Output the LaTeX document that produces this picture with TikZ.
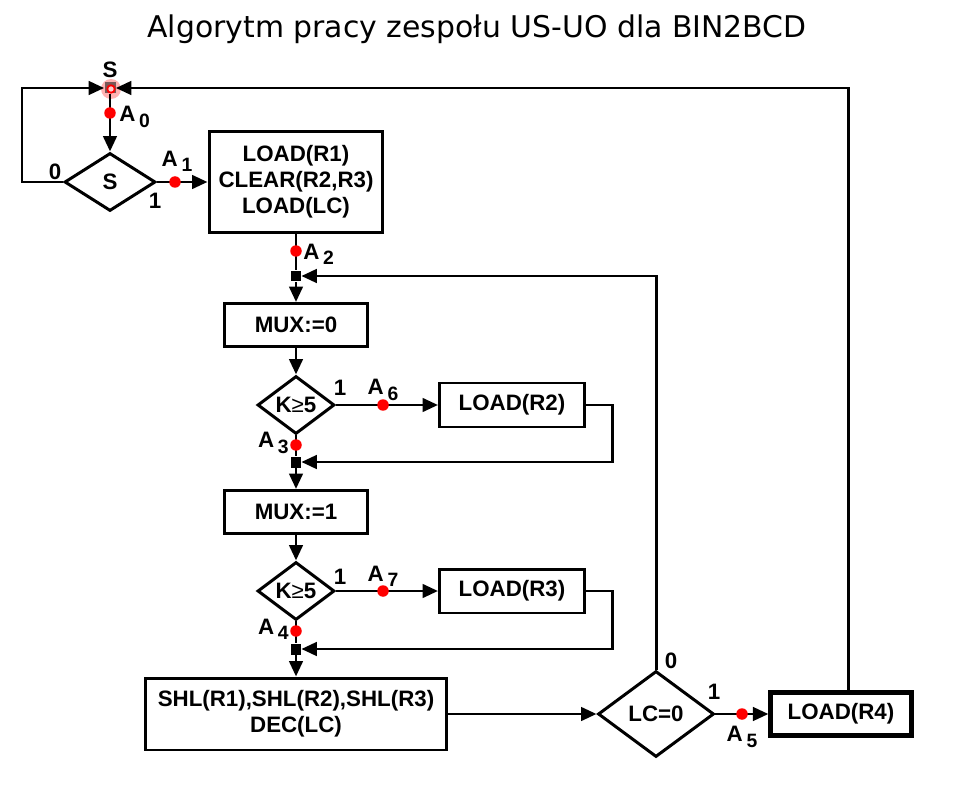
\documentclass[tikz,border=0pt]{standalone}
\usepackage{fontspec}
\setmainfont{Liberation Sans}
\newfontfamily\titlefont{DejaVu Sans}
\usetikzlibrary{shapes.geometric, arrows.meta}
\definecolor{startgray}{RGB}{120,88,88}
\newcommand{\asub}[1]{A\,\raisebox{-0.45ex}{\fontsize{11}{11}\selectfont #1}}
\tikzstyle{process} = [rectangle, draw=black, line width=1.7pt, inner sep=0pt, align=center, font=\fontsize{12.7}{14.9}\selectfont\bfseries]
\tikzstyle{decision} = [diamond, draw=black, line width=1.7pt, inner sep=0pt, aspect=1, font=\fontsize{12.7}{14}\selectfont\bfseries]
\tikzstyle{arrow} = [line width=1.7pt, -{Triangle[length=0.31cm,width=0.27cm]}]
\tikzstyle{line} = [line width=1.7pt]
\tikzstyle{dot} = [circle, fill=red, inner sep=0pt, minimum size=0.23cm]
\tikzstyle{junct} = [rectangle, fill=black, inner sep=0pt, minimum width=0.2cm, minimum height=0.22cm]
\tikzstyle{lbl} = [inner sep=0pt, font=\fontsize{12.7}{14}\selectfont\bfseries]

\begin{document}
\begin{tikzpicture}[x=0.02cm, y=-0.02cm]
	\useasboundingbox (0,0) rectangle (957,787);
	\node (title) at (477,29) {\titlefont\fontsize{17}{20}\selectfont Algorytm pracy zespołu US-UO dla BIN2BCD};

	% start point
	\fill[red, opacity=0.3] (111,89) circle (0.2cm);
	\node (start) [rectangle, fill=startgray, inner sep=0pt, minimum size=0.22cm] at (110,88) {};
	\draw[red, line width=1pt, fill=red!20] (111,89) circle (0.075cm);
	\node (slbl) [lbl] at (110,70) {S};

	% blocks
	\node (dS) [decision, minimum width=1.82cm, minimum height=1.16cm] at (110,182) {S};
	\node (init) [process, minimum width=3.48cm, minimum height=2.02cm] at (296,182) {LOAD(R1)\\CLEAR(R2,R3)\\LOAD(LC)};
	\node (j1) [junct] at (296,276) {};
	\node (mux0) [process, minimum width=2.88cm, minimum height=0.86cm] at (296,325) {MUX:=0};
	\node (dK1) [decision, minimum width=1.54cm, minimum height=1.16cm] at (296,405) {K\textmd{≥}5};
	\node (r2) [process, minimum width=2.9cm, minimum height=0.88cm] at (512,405) {LOAD(R2)};
	\node (j2) [junct] at (296,462) {};
	\node (mux1) [process, minimum width=2.88cm, minimum height=0.86cm] at (296,512) {MUX:=1};
	\node (dK2) [decision, minimum width=1.54cm, minimum height=1.16cm] at (296,591) {K\textmd{≥}5};
	\node (r3) [process, minimum width=2.9cm, minimum height=0.88cm] at (512,591) {LOAD(R3)};
	\node (j3) [junct] at (296,649) {};
	\node (shift) [process, minimum width=6.02cm, minimum height=1.44cm] at (296,714) {SHL(R1),SHL(R2),SHL(R3)\\DEC(LC)};
	\node (dLC) [decision, minimum width=2.32cm, minimum height=1.72cm] at (656,714) {LC=0};
	\node (r4) [process, line width=2.4pt, minimum width=2.82cm, minimum height=0.86cm] at (841,714) {LOAD(R4)};

	% connectors
	\draw [arrow] (start) -- (dS);
	\draw [arrow] (dS.west) -- (22,182) |- (start.west);
	\draw [arrow] (dS.east) -- (init);
	\draw [line] (init) -- (j1);
	\draw [arrow] (j1) -- (mux0);
	\draw [arrow] (mux0) -- (dK1);
	\draw [arrow] (dK1.east) -- (r2);
	\draw [arrow] (r2.east) -- ++(27,0) |- (j2.east);
	\draw [line] (dK1.south) -- (j2);
	\draw [arrow] (j2) -- (mux1);
	\draw [arrow] (mux1) -- (dK2);
	\draw [arrow] (dK2.east) -- (r3);
	\draw [arrow] (r3.east) -- ++(27,0) |- (j3.east);
	\draw [line] (dK2.south) -- (j3);
	\draw [arrow] (j3) -- (shift);
	\draw [arrow] (shift.east) -- (dLC.west);
	\draw [arrow] (dLC.north) |- (j1.east);
	\draw [arrow] (dLC.east) -- (r4);
	\draw [arrow] ([xshift=0.14cm]r4.north) |- (start.east);

	% signals
	\node (a0) [dot] at (110,113) {};
	\node (a1) [dot] at (175,182) {};
	\node (a2) [dot] at (296,251) {};
	\node (a6) [dot] at (383,405) {};
	\node (a3) [dot] at (296,445) {};
	\node (a7) [dot] at (383,591) {};
	\node (a4) [dot] at (296,631) {};
	\node (a5) [dot] at (742,714) {};
	\node [lbl, anchor=west] at (119,117) {\asub{0}};
	\node [lbl] at (177,161) {\asub{1}};
	\node [lbl, anchor=west] at (303,254) {\asub{2}};
	\node [lbl] at (383,390) {\asub{6}};
	\node [lbl, anchor=east] at (289,443) {\asub{3}};
	\node [lbl] at (383,576) {\asub{7}};
	\node [lbl, anchor=east] at (289,629) {\asub{4}};
	\node [lbl] at (742,737) {\asub{5}};

	% branch values
	\node [lbl] at (55,172) {0};
	\node [lbl] at (155,201) {1};
	\node [lbl] at (340,388) {1};
	\node [lbl] at (340,577) {1};
	\node [lbl] at (671,661) {0};
	\node [lbl] at (714,692) {1};
\end{tikzpicture}
\end{document}
